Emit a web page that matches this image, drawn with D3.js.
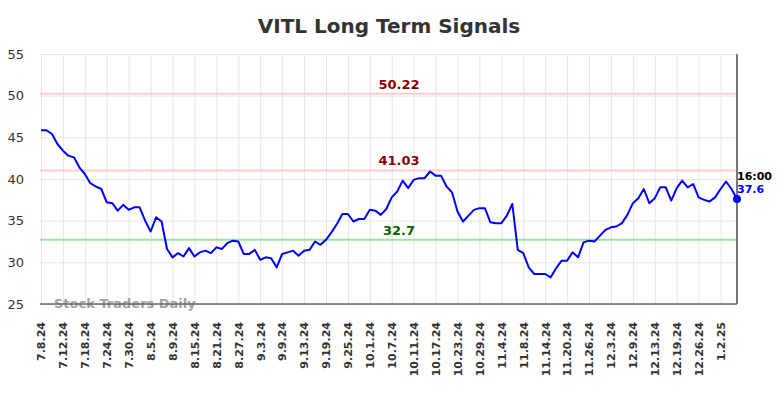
<!DOCTYPE html>
<html>
<head>
<meta charset="utf-8">
<script src="https://cdn.jsdelivr.net/npm/d3@7"></script>
<style>
html,body{margin:0;padding:0;background:#fff;}
svg{display:block;font-family:"DejaVu Sans",sans-serif;}
</style>
</head>
<body>
<svg id="chart" width="784" height="398"></svg>
<script>
const title = "VITL Long Term Signals";
const dates = [
"7.8.24","7.9.24","7.10.24","7.11.24","7.12.24","7.15.24","7.16.24","7.17.24","7.18.24","7.19.24","7.22.24","7.23.24","7.24.24","7.25.24","7.26.24","7.29.24","7.30.24","7.31.24",
"8.1.24","8.2.24","8.5.24","8.6.24","8.7.24","8.8.24","8.9.24","8.12.24","8.13.24","8.14.24","8.15.24","8.16.24","8.19.24","8.20.24","8.21.24","8.22.24","8.23.24","8.26.24","8.27.24","8.28.24","8.29.24","8.30.24",
"9.3.24","9.4.24","9.5.24","9.6.24","9.9.24","9.10.24","9.11.24","9.12.24","9.13.24","9.16.24","9.17.24","9.18.24","9.19.24","9.20.24","9.23.24","9.24.24","9.25.24","9.26.24","9.27.24","9.30.24",
"10.1.24","10.2.24","10.3.24","10.4.24","10.7.24","10.8.24","10.9.24","10.10.24","10.11.24","10.14.24","10.15.24","10.16.24","10.17.24","10.18.24","10.21.24","10.22.24","10.23.24","10.24.24","10.25.24","10.28.24","10.29.24","10.30.24","10.31.24",
"11.1.24","11.4.24","11.5.24","11.6.24","11.7.24","11.8.24","11.11.24","11.12.24","11.13.24","11.14.24","11.15.24","11.18.24","11.19.24","11.20.24","11.21.24","11.22.24","11.25.24","11.26.24","11.27.24","11.29.24",
"12.2.24","12.3.24","12.4.24","12.5.24","12.6.24","12.9.24","12.10.24","12.11.24","12.12.24","12.13.24","12.16.24","12.17.24","12.18.24","12.19.24","12.20.24","12.23.24","12.24.24","12.26.24","12.27.24","12.30.24","12.31.24",
"1.2.25","1.3.25","1.6.25","1.7.25"
];
const values = [
45.85,45.85,45.4,44.2,43.4,42.8,42.6,41.4,40.6,39.5,39.1,38.8,37.2,37.1,36.2,36.9,36.3,36.6,36.6,35.0,33.7,35.4,
34.9,31.6,30.6,31.1,30.7,31.7,30.7,31.2,31.4,31.1,31.8,31.6,32.3,32.6,32.5,31.0,31.0,31.5,30.3,30.6,30.5,
29.4,31.0,31.2,31.4,30.8,31.4,31.5,32.5,32.1,32.7,33.6,34.6,35.8,35.8,34.9,35.2,35.2,36.3,36.2,35.7,36.4,
37.8,38.5,39.8,38.9,39.9,40.1,40.1,40.9,40.4,40.4,39.1,38.4,36.1,34.9,35.6,36.3,36.5,36.5,34.8,34.7,34.7,
35.6,37.0,31.5,31.1,29.4,28.6,28.6,28.6,28.2,29.3,30.2,30.2,31.2,30.6,32.4,32.6,32.5,33.2,33.9,34.2,34.3,
34.7,35.7,37.1,37.7,38.8,37.1,37.7,39.0,39.0,37.4,38.9,39.8,39.0,39.4,37.8,37.5,37.3,37.8,38.8,39.7,38.8,37.6
];
const tickLabels = ["7.8.24","7.12.24","7.18.24","7.24.24","7.30.24","8.5.24","8.9.24","8.15.24","8.21.24","8.27.24","9.3.24","9.9.24","9.13.24","9.19.24","9.25.24","10.1.24","10.7.24","10.11.24","10.17.24","10.23.24","10.29.24","11.4.24","11.8.24","11.14.24","11.20.24","11.26.24","12.3.24","12.9.24","12.13.24","12.19.24","12.26.24","1.2.25"];
const yTicks = [25,30,35,40,45,50,55];
const levelValues = [50.22, 41.03, 32.7];
const levelKinds = ["resistance","resistance","support"];
const lastTimeLabel = "16:00";
const watermark = "Stock Traders Daily";

const svg = d3.select("#chart");
const L = 40, R = 737, T = 54, B = 304;

const x = d3.scalePoint().domain(dates).range([L + 1, R]);
const y = d3.scaleLinear().domain([25, 55]).range([B, T]);

// title
svg.append("text").attr("x", 389).attr("y", 33).attr("text-anchor", "middle")
  .attr("font-size", 20).attr("font-weight", "bold").attr("fill", "#333").text(title);

// horizontal grid
const yAxis = d3.axisLeft(y).tickValues(yTicks).tickSize(-(R - L)).tickPadding(16).tickFormat(d3.format("d"));
const gy = svg.append("g").attr("transform", `translate(${L},0)`).call(yAxis);
gy.select(".domain").remove();
gy.selectAll(".tick line").attr("stroke", "#e6e6e6").attr("stroke-width", 1);
gy.selectAll(".tick text").attr("font-size", 13).attr("fill", "#333").attr("font-family", "DejaVu Sans");

// vertical grid + x labels
const xAxis = d3.axisBottom(x).tickValues(tickLabels).tickSize(-(B - T)).tickPadding(0);
const gx = svg.append("g").attr("transform", `translate(0,${B})`).call(xAxis);
gx.select(".domain").remove();
gx.selectAll(".tick line").attr("stroke", "#e6e6e6").attr("stroke-width", 1);
gx.selectAll(".tick text")
  .attr("font-size", 11).attr("font-weight", "bold").attr("fill", "#333").attr("font-family", "DejaVu Sans")
  .attr("text-anchor", "end").attr("dy", "0.35em")
  .attr("transform", "translate(0,18) rotate(-90)").attr("x", 0).attr("y", 0);

// level lines
const levelColor = {resistance: "#ffcccc", support: "#99e699"};
const levelText = {resistance: "#8b0000", support: "#006400"};
levelValues.forEach((v, i) => {
  svg.append("line").attr("x1", L).attr("x2", R).attr("y1", y(v)).attr("y2", y(v))
    .attr("stroke", levelColor[levelKinds[i]]).attr("stroke-width", 2);
  svg.append("text").attr("x", 399).attr("y", y(v) - 5).attr("text-anchor", "middle")
    .attr("font-size", 13).attr("font-weight", "bold").attr("fill", levelText[levelKinds[i]])
    .text(levelKinds[i] === "support" ? String(v) : v.toFixed(2));
});

// watermark
svg.append("text").attr("x", 54).attr("y", 308).attr("font-size", 13).attr("font-weight", "bold")
  .attr("fill", "#999").attr("opacity", 0.9).text(watermark);

// axes lines
svg.append("line").attr("x1", L).attr("x2", R).attr("y1", B).attr("y2", B).attr("stroke", "#666").attr("stroke-width", 1.5);
svg.append("line").attr("x1", R).attr("x2", R).attr("y1", T).attr("y2", B).attr("stroke", "#777").attr("stroke-width", 2);

// price line
const line = d3.line().x((d, i) => x(dates[i])).y(d => y(d));
svg.append("path").datum(values).attr("d", line).attr("fill", "none")
  .attr("stroke", "#0000ff").attr("stroke-width", 2).attr("stroke-linejoin", "round");

// last point
const li = values.length - 1;
svg.append("circle").attr("cx", x(dates[li])).attr("cy", y(values[li])).attr("r", 4).attr("fill", "#0000ff");
svg.append("text").attr("x", x(dates[li])).attr("y", y(values[li]) - 19).attr("font-size", 11)
  .attr("font-weight", "bold").attr("fill", "#000").text(lastTimeLabel);
svg.append("text").attr("x", x(dates[li])).attr("y", y(values[li]) - 6).attr("font-size", 11)
  .attr("font-weight", "bold").attr("fill", "#0000ff").text(String(values[li]));
</script>
</body>
</html>
